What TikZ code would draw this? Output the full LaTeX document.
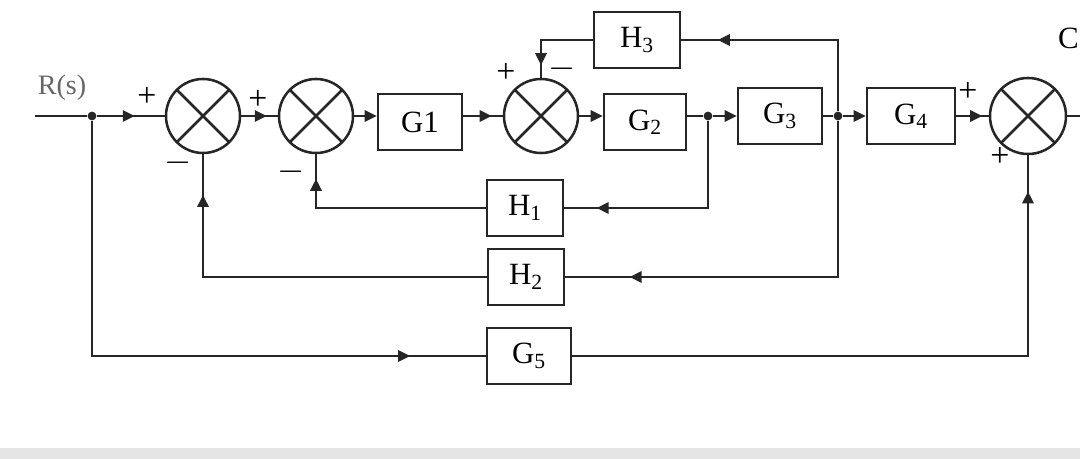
\documentclass[tikz,border=0pt]{standalone}
\usepackage{fontspec}
\setmainfont{Liberation Serif}
\usetikzlibrary{arrows.meta,decorations.markings}
\tikzset{
  conn/.style={line width=1.8pt,draw=black!85},
  sumnode/.style={circle,draw=black!85,line width=1.8pt,minimum size=1.85cm,inner sep=0pt,
    path picture={\draw[line width=1.8pt,black!85] (path picture bounding box.center) +(45:1cm) -- +(225:1cm) +(135:1cm) -- +(315:1cm);}},
  blk/.style={draw=black!85,line width=1.8pt,minimum width=2.1cm,minimum height=1.4cm,inner sep=0pt,font=\fontsize{22}{24}\selectfont},
  jdot/.style={circle,fill=black!85,inner sep=0pt,minimum size=0.22cm},
  arrowat/.style={postaction={decorate},decoration={markings,mark=at position #1 with {\arrow{Triangle[length=0.3cm,width=0.28cm]}}}},
  endarr/.style={-{Triangle[length=0.3cm,width=0.28cm]}},
  sign/.style={font=\fontsize{24}{26}\selectfont,inner sep=0pt}
}
\begin{document}
\begin{tikzpicture}[x=0.025cm,y=-0.025cm]
\useasboundingbox (0,0) rectangle (1080,459);
\fill[black!10] (0,448) rectangle (1080,459);
% main path
\coordinate (in) at (35,116);
\node[jdot] (j0) at (92,116) {};
\node[sumnode] (s1) at (203,116) {};
\node[sumnode] (s2) at (316,116) {};
\node[blk] (G1) at (420,122) {G1};
\node[sumnode] (s3) at (541,116) {};
\node[blk,minimum width=2.05cm] (G2) at (645,122) {G\textsubscript{2}};
\node[jdot] (j1) at (708,116) {};
\node[blk] (G3) at (780,116) {G\textsubscript{3}};
\node[jdot] (j2) at (838,116) {};
\node[blk,minimum width=2.2cm] (G4) at (911,116) {G\textsubscript{4}};
\node[sumnode,minimum size=1.9cm] (s4) at (1028,116) {};
\coordinate (out) at (1085,116);
% feedback blocks
\node[blk,minimum width=2.15cm] (H3) at (637,40) {H\textsubscript{3}};
\node[blk,minimum width=1.9cm] (H1) at (525,208) {H\textsubscript{1}};
\node[blk,minimum width=1.9cm] (H2) at (526,277) {H\textsubscript{2}};
\node[blk] (G5) at (529,356) {G\textsubscript{5}};
% texts
\node[text=black!60,font=\fontsize{20}{22}\selectfont] (R) at (62,88) {R(s)};
\node[font=\fontsize{22}{24}\selectfont,anchor=east,inner sep=0pt] (C) at (1079,38) {C};
\node[sign] (p1) at (147,97) {+};
\node[sign] (m1) at (178,163) {$-$};
\node[sign] (p2) at (258,100) {+};
\node[sign] (m2) at (291,172) {$-$};
\node[sign] (p3) at (506,73) {+};
\node[sign] (m3) at (562,69) {$-$};
\node[sign] (p4) at (968,92) {+};
\node[sign] (p5) at (1000,157) {+};
% forward connectors
\draw[conn] (in) -- (j0);
\draw[conn,arrowat=0.56] (j0) -- (s1);
\draw[conn,arrowat=0.7] (s1) -- (s2);
\draw[conn,endarr] (s2.east) -- (G1.west |- s2.east);
\draw[conn,arrowat=0.72] (G1.east |- s3.west) -- (s3.west);
\draw[conn,endarr] (s3.east) -- (G2.west |- s3.east);
\draw[conn] (G2.east |- j1) -- (j1);
\draw[conn,endarr] (j1) -- (G3);
\draw[conn] (G3) -- (j2);
\draw[conn,endarr] (j2) -- (G4);
\draw[conn,arrowat=0.8] (G4) -- (s4);
\draw[conn] (s4) -- (out);
% feedback connectors
\draw[conn,arrowat=0.84] (j2) |- (H3);
\draw[conn,arrowat=0.86] (H3) -| (s3);
\draw[conn,arrowat=0.86] (j1) |- (H1);
\draw[conn,arrowat=0.89] (H1) -| (s2);
\draw[conn,arrowat=0.85] (j2) |- (H2);
\draw[conn,arrowat=0.9] (H2) -| (s1);
\draw[conn,arrowat=0.88] (j0) |- (G5);
\draw[conn,arrowat=0.945] (G5) -| (s4);
\end{tikzpicture}
\end{document}
